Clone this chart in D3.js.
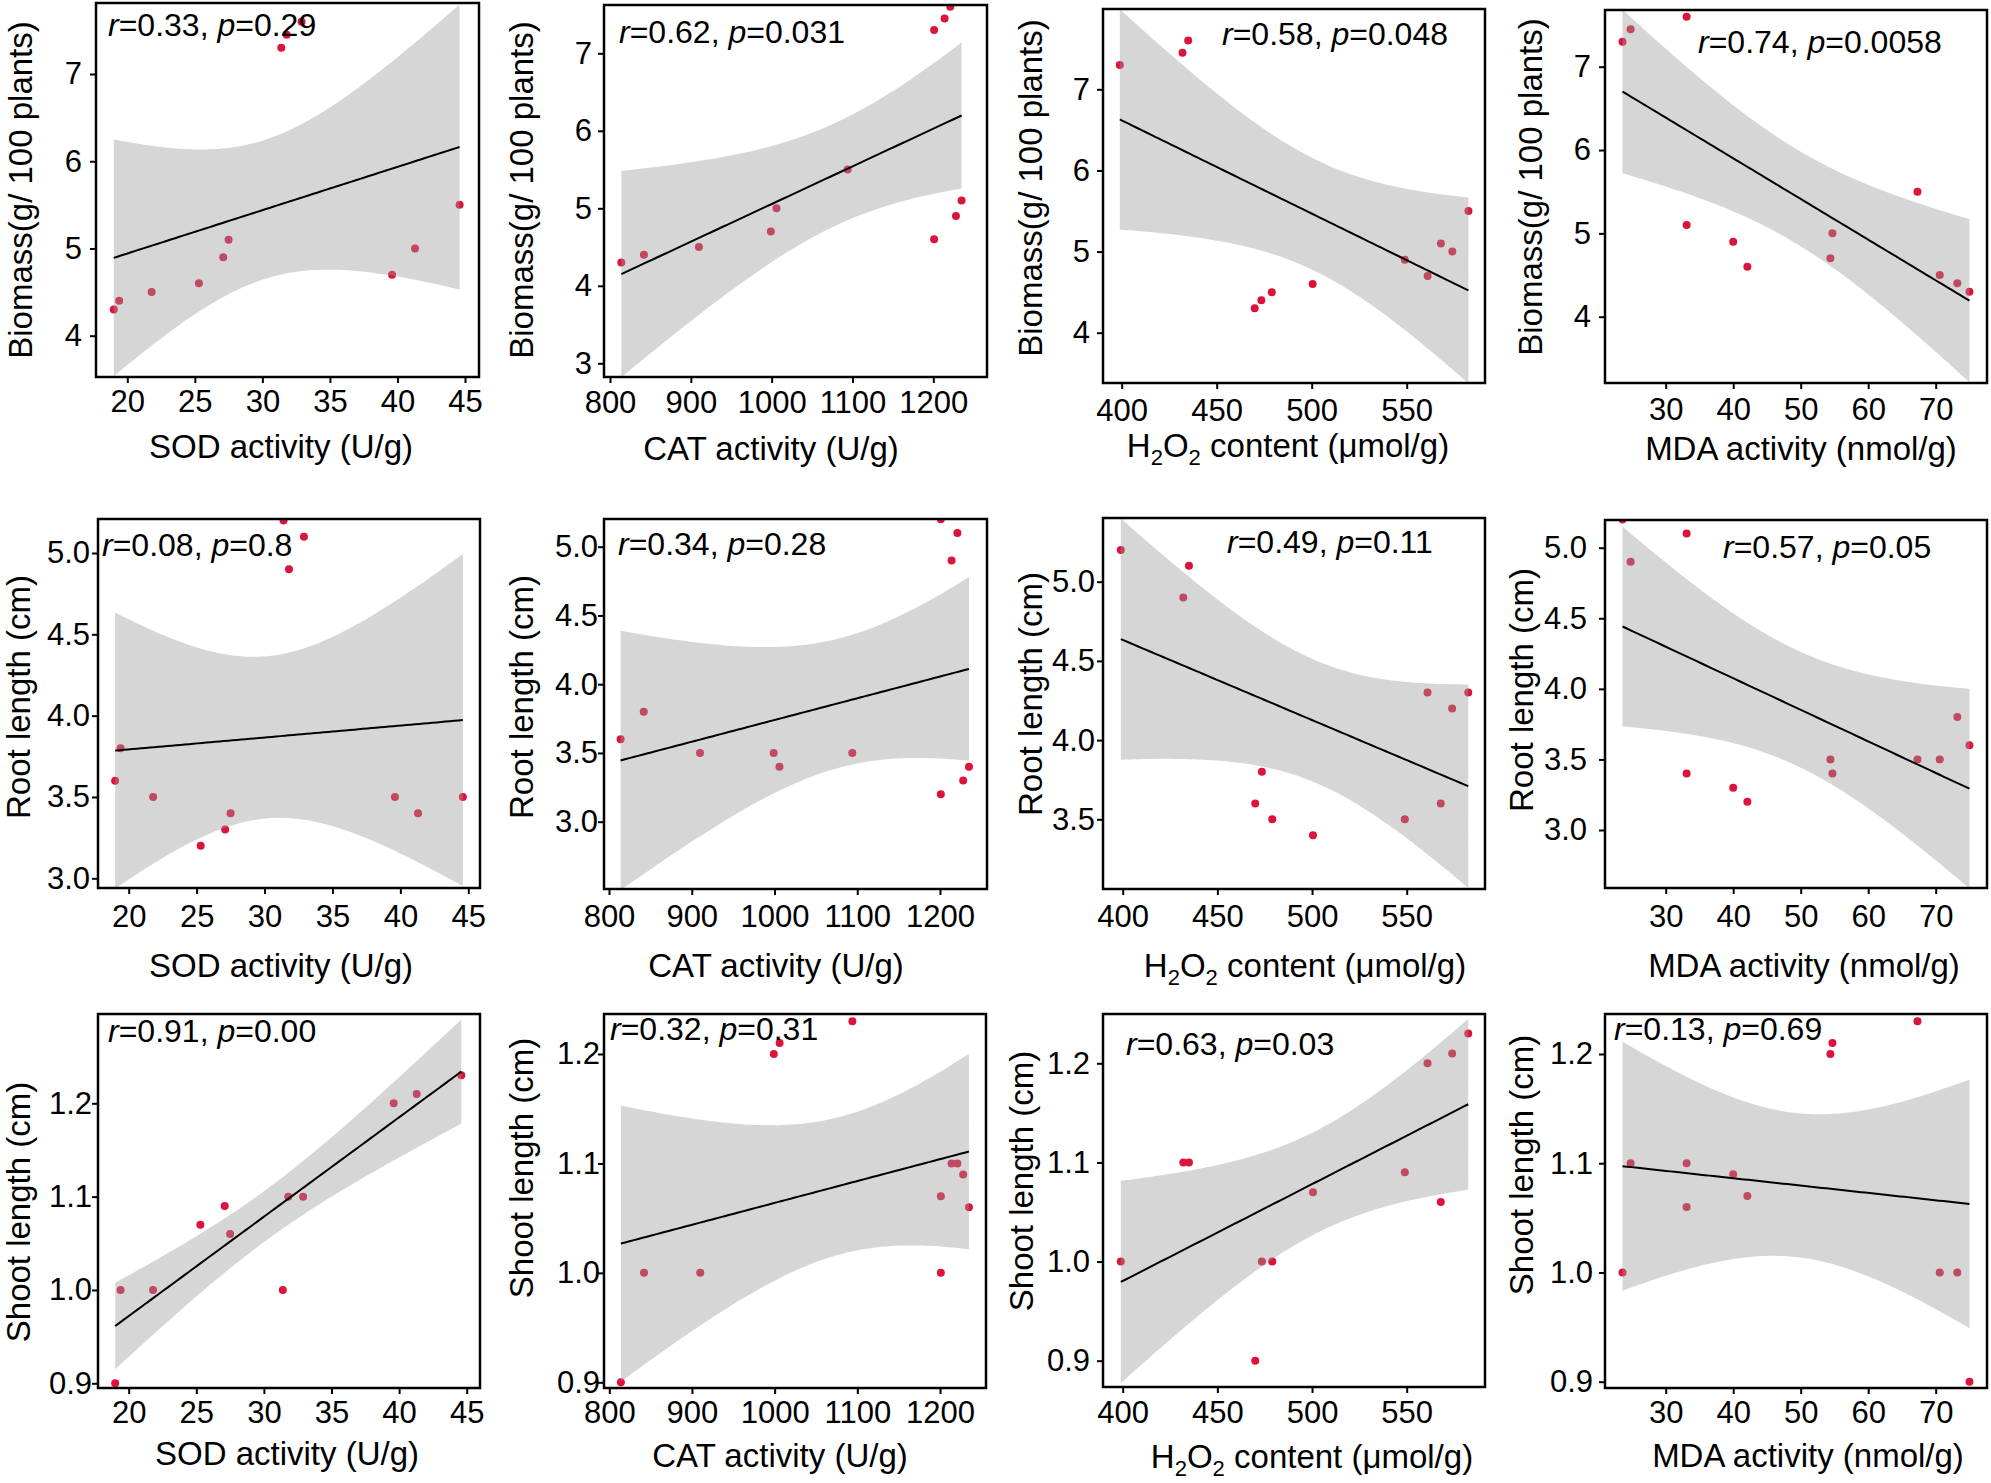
<!DOCTYPE html>
<html><head><meta charset="utf-8">
<script src="https://cdn.jsdelivr.net/npm/d3@7"></script>
<style>
body{margin:0;background:#fff}
svg{display:block}
text{font-family:"Liberation Sans",Arial,sans-serif;fill:#000}
</style>
</head><body>
<svg id="chart" width="1991" height="1483"></svg>
<script>
// ---- data: 12 samples ----
const sodActivity   = [19.0,19.4,21.8,25.3,27.1,27.5,31.4,31.8,32.9,39.6,41.3,44.6];
const catActivity   = [814,842,910,1201,1228,1235,1201,1214,1221,999,1006,1094];
const h2o2Content   = [470,473.5,479,500.5,549,568,399,432,435,561,574,582.5];
const mdaActivity   = [75.0,73.2,70.6,42.1,40.0,33.1,23.6,24.8,33.1,54.4,54.7,67.3];
const biomass       = [4.3,4.4,4.5,4.6,4.9,5.1,7.3,7.45,7.6,4.7,5.0,5.5];
const rootLength    = [3.6,3.8,3.5,3.2,3.3,3.4,5.2,4.9,5.1,3.5,3.4,3.5];
const rootLengthH2O2= [3.6,3.8,3.5,3.4,3.5,3.6,5.2,4.9,5.1,4.3,4.2,4.3];
const shootLength   = [0.9,1.0,1.0,1.07,1.09,1.06,1.0,1.1,1.1,1.2,1.21,1.23];

// ---- tick labels ----
const sodTicks  = [20,25,30,35,40,45];
const catTicks  = [800,900,1000,1100,1200];
const h2o2Ticks = [400,450,500,550];
const mdaTicks  = [30,40,50,60,70];
const biomassTicks  = [4,5,6,7];
const biomassTicks2 = [3,4,5,6,7];
const rootTicks  = [3.0,3.5,4.0,4.5,5.0];
const rootTicks2 = [3.5,4.0,4.5,5.0];
const shootTicks = [0.9,1.0,1.1,1.2];

// ---- correlation labels (r, p) ----
const rValues = ["0.33","0.62","0.58","0.74","0.08","0.34","0.49","0.57","0.91","0.32","0.63","0.13"];
const pValues = ["0.29","0.031","0.048","0.0058","0.8","0.28","0.11","0.05","0.00","0.31","0.03","0.69"];

// ---- axis titles ----
const xTitles = ["SOD activity (U/g)","CAT activity (U/g)","H2O2","MDA activity (nmol/g)"];
const yTitles = ["Biomass(g/ 100 plants)","Root length (cm)","Shoot length (cm)"];

const xData  = [sodActivity, catActivity, h2o2Content, mdaActivity];
const xTicks = [sodTicks, catTicks, h2o2Ticks, mdaTicks];

// ---- layout (pixel geometry of each panel) ----
const layout = [
 {box:[96,3,479,377],   xc:[20,127.3,45,465],       yc:[7,74,4,335.7],        ann:[108,36],   yl:[32,190],   xl:[281,458], yg:14, xo:35},
 {box:[604,5,987,377],  xc:[800,610,1200,933.3],    yc:[7,53.3,3,363.3],      ann:[619,43],   yl:[533,190],  xl:[771,460], yg:12, xo:36},
 {box:[1103,9,1485,383],xc:[400,1121.7,550,1406.7], yc:[7,89.3,4,332.7],      ann:[1222,45],  yl:[1042,188], xl:[1288,457],yg:13, xo:38},
 {box:[1605,10,1987,383],xc:[30,1665.7,70,1935.7],  yc:[7,66.7,4,316.7],      ann:[1698,53],  yl:[1542,187], xl:[1801,460],yg:14, xo:37},
 {box:[98,519,480,888], xc:[20,128.7,45,468.3],     yc:[5,553,3,878.3],       ann:[102,556],  yl:[30,697],   xl:[281,977], yg:8,  xo:39},
 {box:[604,519,987,889],xc:[800,609,1200,940],      yc:[5,546.7,3,821.7],     ann:[618,555],  yl:[533,697],  xl:[776,977], yg:6,  xo:38},
 {box:[1103,518,1485,889],xc:[400,1122.7,550,1406.7],yc:[5,581.7,3.5,819.3],  ann:[1227,553], yl:[1042,694], xl:[1305,977],yg:8,  xo:38},
 {box:[1605,520,1987,888],xc:[30,1665.7,70,1935.7], yc:[5,547.7,3,830],       ann:[1723,558], yl:[1533,690], xl:[1804,977],yg:18, xo:39},
 {box:[98,1014,480,1388],xc:[20,128.7,45,466.7],    yc:[1.2,1103.3,0.9,1383.3],ann:[108,1042],yl:[30,1212],  xl:[287,1465],yg:6,  xo:35},
 {box:[604,1014,986,1388],xc:[800,609.3,1200,940],  yc:[1.2,1054,0.9,1382.3], ann:[610,1040], yl:[533,1168], xl:[780,1467],yg:4,  xo:35},
 {box:[1103,1014,1485,1387],xc:[400,1122.7,550,1406.7],yc:[1.2,1063.3,0.9,1360.7],ann:[1126,1055],yl:[1033,1181],xl:[1312,1468],yg:13,xo:36},
 {box:[1605,1014,1987,1388],xc:[30,1665.7,70,1935.7],yc:[1.2,1054,0.9,1381.7],ann:[1614,1040],yl:[1533,1165],xl:[1808,1467],yg:12,xo:35}
];

const panelY = [biomass,biomass,biomass,biomass, rootLength,rootLength,rootLengthH2O2,rootLength, shootLength,shootLength,shootLength,shootLength];
const panelYTicks = [biomassTicks,biomassTicks2,biomassTicks,biomassTicks, rootTicks,rootTicks,rootTicks2,rootTicks, shootTicks,shootTicks,shootTicks,shootTicks];

// linear model fit with 95% confidence band
function lmFit(xs, ys){
  const n = xs.length, mx = d3.mean(xs), my = d3.mean(ys);
  let sxx=0, sxy=0;
  for(let i=0;i<n;i++){ sxx += (xs[i]-mx)**2; sxy += (xs[i]-mx)*(ys[i]-my); }
  const b = sxy/sxx, a = my - b*mx;
  let sse=0; for(let i=0;i<n;i++){ sse += (ys[i]-(a+b*xs[i]))**2; }
  const s = Math.sqrt(sse/(n-2));
  const t = 2.228; // t(0.975, df=10)
  return v => { const f=a+b*v, se=s*Math.sqrt(1/n+(v-mx)**2/sxx); return {v, f, lo:f-t*se, hi:f+t*se}; };
}

const svg = d3.select("#chart");
const FS_TICK = 31, FS_TITLE = 33, FS_ANN = 32;
const pointColor = "#DC143C";

layout.forEach((L, i) => {
  const col = i % 4, row = Math.floor(i/4);
  const xs = xData[col], ys = panelY[i];
  const [bl,bt,br,bb] = L.box;
  const x = d3.scaleLinear().domain([L.xc[0],L.xc[2]]).range([L.xc[1],L.xc[3]]);
  const y = d3.scaleLinear().domain([L.yc[0],L.yc[2]]).range([L.yc[1],L.yc[3]]);
  const g = svg.append("g");
  const cid = "clip"+i;
  g.append("clipPath").attr("id",cid).append("rect")
    .attr("x",bl).attr("y",bt).attr("width",br-bl).attr("height",bb-bt);
  const plot = g.append("g").attr("clip-path",`url(#${cid})`);

  // points
  plot.selectAll("circle").data(d3.zip(xs,ys)).join("circle")
    .attr("cx",d=>x(d[0])).attr("cy",d=>y(d[1])).attr("r",4)
    .attr("fill",pointColor);

  // band + line
  const model = lmFit(xs, ys);
  const [xmin,xmax] = d3.extent(xs);
  const grid = d3.range(0,81).map(k => model(xmin + (xmax-xmin)*k/80));
  plot.append("path").datum(grid)
    .attr("d", d3.area().x(d=>x(d.v)).y0(d=>y(d.lo)).y1(d=>y(d.hi)))
    .attr("fill","#999999").attr("fill-opacity",0.4);
  plot.append("path").datum(grid)
    .attr("d", d3.line().x(d=>x(d.v)).y(d=>y(d.f)))
    .attr("fill","none").attr("stroke","#000").attr("stroke-width",2);

  // frame
  g.append("rect").attr("x",bl).attr("y",bt).attr("width",br-bl).attr("height",bb-bt)
    .attr("fill","none").attr("stroke","#000").attr("stroke-width",2.5);

  // axes
  const ya = panelYTicks[i];
  const yfmt = row===0 ? d3.format("d") : d3.format(".1f");
  const xAxis = g.append("g").attr("transform",`translate(0,${bb})`)
    .call(d3.axisBottom(x).tickValues(xTicks[col]).tickFormat(d3.format("d")).tickSize(6).tickSizeOuter(0).tickPadding(L.xo-6-22));
  const yAxis = g.append("g").attr("transform",`translate(${bl},0)`)
    .call(d3.axisLeft(y).tickValues(ya).tickFormat(yfmt).tickSize(6).tickSizeOuter(0).tickPadding(L.yg-6));
  [xAxis,yAxis].forEach(a=>{
    a.select(".domain").remove();
    a.selectAll(".tick line").attr("stroke","#000").attr("stroke-width",2);
    a.selectAll(".tick text").attr("font-size",FS_TICK).attr("fill","#000")
      .style("font-family",'"Liberation Sans",Arial,sans-serif');
  });

  // annotation
  const ann = g.append("text").attr("x",L.ann[0]).attr("y",L.ann[1]).attr("font-size",FS_ANN);
  ann.append("tspan").attr("font-style","italic").text("r");
  ann.append("tspan").text("=" + rValues[i] + ", ");
  ann.append("tspan").attr("font-style","italic").text("p");
  ann.append("tspan").text("=" + pValues[i]);

  // x title
  const xt = g.append("text").attr("x",L.xl[0]).attr("y",L.xl[1]).attr("text-anchor","middle").attr("font-size",FS_TITLE);
  if (col === 2) {
    xt.append("tspan").text("H");
    xt.append("tspan").attr("font-size",22).attr("dy",8).text("2");
    xt.append("tspan").attr("dy",-8).text("O");
    xt.append("tspan").attr("font-size",22).attr("dy",8).text("2");
    xt.append("tspan").attr("dy",-8).text(" content (\u03bcmol/g)");
  } else {
    xt.text(xTitles[col]);
  }

  // y title
  g.append("text").attr("transform",`translate(${L.yl[0]},${L.yl[1]}) rotate(-90)`)
    .attr("text-anchor","middle").attr("font-size",FS_TITLE).text(yTitles[row]);
});
</script>
</body></html>
